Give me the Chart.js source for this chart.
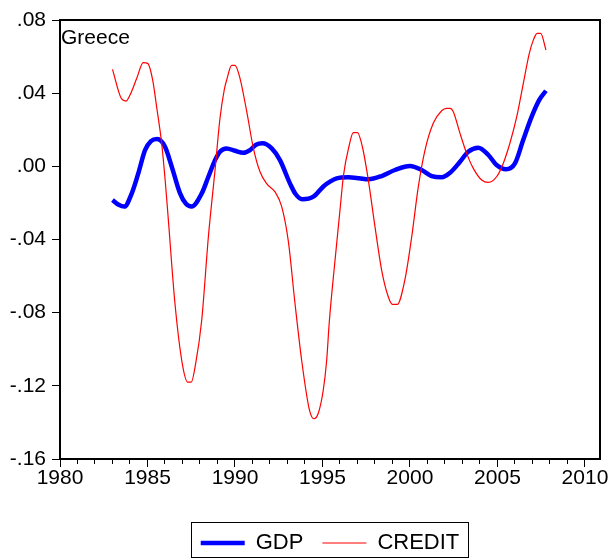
<!DOCTYPE html>
<html>
<head>
<meta charset="utf-8">
<script src="https://cdn.jsdelivr.net/npm/chart.js@4"></script>
<style>
html,body{margin:0;padding:0;background:#fff;}
canvas{display:block;}
</style>
</head>
<body>
<canvas id="c" width="613" height="560" style="width:613px;height:560px"></canvas>
<script>
// ---- data ----
const panelTitle = 'Greece';
const seriesNames = ['GDP', 'CREDIT'];

const gdpYears = [1983.0, 1983.35, 1983.68, 1984.1, 1984.47, 1984.86, 1985.2, 1985.55, 1986.0, 1986.38,
  1986.86, 1987.2, 1987.52, 1988.1, 1988.48, 1988.86, 1989.14, 1989.52, 1990.0, 1990.48,
  1990.86, 1991.2, 1991.57, 1992.1, 1992.57, 1993.14, 1993.45, 1993.85, 1994.48, 1995.05,
  1995.43, 1995.81, 1996.47, 1997.1, 1997.62, 1998.38, 1999.14, 2000.0, 2000.67, 2001.24,
  2001.81, 2002.29, 2002.86, 2003.33, 2003.9, 2004.48, 2004.95, 2005.49, 2006.0, 2006.47,
  2006.95, 2007.39, 2007.77];
const gdpValues = [-0.0184, -0.021, -0.022, -0.0148, -0.004, 0.0089, 0.0138, 0.0149, 0.0107, 0.0,
  -0.0148, -0.0205, -0.022, -0.0148, -0.0057, 0.0034, 0.008, 0.0098, 0.0085, 0.0074,
  0.0089, 0.0118, 0.0126, 0.0098, 0.0034, -0.0093, -0.015, -0.018, -0.0166, -0.011,
  -0.0084, -0.0066, -0.006, -0.0065, -0.0071, -0.0053, -0.002, 0.0002, -0.002, -0.0053,
  -0.006, -0.0035, 0.0025, 0.008, 0.0102, 0.0062, 0.0007, -0.0016, 0.0016, 0.0144,
  0.027, 0.0363, 0.0413];

const creditYears = [1983.0, 1983.5, 1983.77, 1984.0, 1984.38, 1984.76, 1985.01, 1985.3, 1985.52, 1985.81,
  1986.04, 1986.19, 1986.57, 1986.99, 1987.3, 1987.5, 1987.75, 1988.1, 1988.48, 1988.86,
  1989.14, 1989.39, 1989.52, 1989.81, 1990.0, 1990.29, 1990.67, 1991.05, 1991.43, 1991.81, 1992.29,
  1992.67, 1993.05, 1993.43, 1993.81, 1994.25, 1994.51, 1994.76, 1995.05, 1995.24, 1995.39,
  1995.71, 1996.0, 1996.2, 1996.51, 1996.76, 1997.0, 1997.28, 1997.62, 1998.0, 1998.38,
  1998.76, 1999.0, 1999.27, 1999.71, 2000.1, 2000.48, 2000.86, 2001.33, 2001.81, 2002.1,
  2002.3, 2002.47, 2002.86, 2003.24, 2003.62, 2004.1, 2004.48, 2004.95, 2005.33, 2005.71,
  2006.1, 2006.47, 2006.82, 2007.05, 2007.27, 2007.47, 2007.77];
const creditValues = [0.053, 0.0372, 0.0357, 0.039, 0.048, 0.0567, 0.0563, 0.047, 0.0326, 0.0126,
  -0.011, -0.029, -0.075, -0.108, -0.118, -0.118, -0.108, -0.084, -0.0385, -0.002,
  0.026, 0.042, 0.047, 0.0552, 0.0552, 0.048, 0.030, 0.010, -0.003, -0.0095, -0.014,
  -0.022, -0.041, -0.075, -0.106, -0.133, -0.138, -0.135, -0.122, -0.106, -0.085,
  -0.052, -0.024, -0.005, 0.0107, 0.0184, 0.0184, 0.0107, -0.0075, -0.033, -0.0567,
  -0.0713, -0.0755, -0.0755, -0.062, -0.0385, -0.011, 0.0089, 0.0235, 0.0304, 0.0317,
  0.0317, 0.030, 0.018, 0.0071, -0.0011, -0.0075, -0.0088, -0.0057, 0.0016, 0.0126,
  0.027, 0.045, 0.0618, 0.069, 0.0727, 0.0727, 0.0636];

const xMajorTicks = [1980, 1985, 1990, 1995, 2000, 2005, 2010];
const xTickLabels = ['1980', '1985', '1990', '1995', '2000', '2005', '2010'];
const yTicks = [-0.16, -0.12, -0.08, -0.04, 0, 0.04, 0.08];
const yTickLabels = ['-.16', '-.12', '-.08', '-.04', '.00', '.04', '.08'];
const xMin = 1980, xMax = 2010.86, yMin = -0.16, yMax = 0.08;

// ---- chart ----
const FONT = "'Liberation Sans', Arial, sans-serif";
Chart.defaults.font.family = FONT;
Chart.defaults.color = '#000';

const toPoints = (xs, ys) => xs.map((x, i) => ({x: x, y: ys[i]}));

const extras = {
  id: 'panelExtras',
  afterDraw(chart) {
    const {ctx, chartArea} = chart;
    ctx.save();
    ctx.font = '21px ' + FONT;
    ctx.fillStyle = '#000';
    ctx.textBaseline = 'alphabetic';
    ctx.textAlign = 'left';
    ctx.fillText(panelTitle, chartArea.left + 1, chartArea.top + 24);
    const lg = chart.legend;
    if (lg && lg.legendHitBoxes && lg.legendHitBoxes.length) {
      const hb = lg.legendHitBoxes;
      const l = Math.min(...hb.map(h => h.left)) - 10;
      const r = Math.max(...hb.map(h => h.left + h.width)) + 8;
      const t = hb[0].top - 10;
      const b = hb[0].top + 25;
      ctx.strokeStyle = '#000';
      ctx.lineWidth = 1;
      ctx.strokeRect(Math.round(l) + 0.5, Math.round(t) + 0.5, Math.round(r - l), Math.round(b - t));
    }
    ctx.restore();
  }
};

const frameAxis = (pos) => ({
  type: 'linear',
  position: pos,
  min: pos === 'top' ? xMin : yMin,
  max: pos === 'top' ? xMax : yMax,
  display: true,
  ticks: {display: false},
  grid: {display: false, drawTicks: false},
  border: {display: true, color: '#000', width: 2},
  afterFit: (s) => { if (pos === 'top') s.height = 0; else s.width = 0; }
});

new Chart(document.getElementById('c'), {
  type: 'line',
  data: {
    datasets: [
      {
        label: seriesNames[0],
        data: toPoints(gdpYears, gdpValues),
        borderColor: '#0000ff',
        backgroundColor: '#0000ff',
        borderWidth: 4.5,
        pointRadius: 0,
        cubicInterpolationMode: 'monotone',
        fill: false,
        order: 1
      },
      {
        label: seriesNames[1],
        data: toPoints(creditYears, creditValues),
        borderColor: '#ff0000',
        backgroundColor: '#ff0000',
        borderWidth: 1.2,
        pointRadius: 0,
        cubicInterpolationMode: 'monotone',
        fill: false,
        order: 0
      }
    ]
  },
  options: {
    responsive: false,
    devicePixelRatio: 1,
    animation: false,
    events: [],
    layout: {padding: {top: 20, right: 13, bottom: -4, left: 0}},
    scales: {
      xm: {
        type: 'linear', position: 'bottom', weight: 0,
        min: xMin, max: xMax,
        ticks: {display: false, stepSize: 1, includeBounds: false},
        grid: {drawOnChartArea: false, tickLength: 5, tickColor: '#000', tickWidth: 1},
        border: {display: false},
        afterFit: (s) => { s.height = 0; }
      },
      x: {
        type: 'linear', position: 'bottom', weight: 1,
        min: xMin, max: xMax,
        afterBuildTicks: (s) => { s.ticks = xMajorTicks.map(v => ({value: v})); },
        ticks: {
          font: {size: 21}, color: '#000', padding: -1, maxRotation: 0, autoSkip: false,
          callback: (v, i) => xTickLabels[i]
        },
        grid: {drawOnChartArea: false, tickLength: 8, tickColor: '#000', tickWidth: 1},
        border: {display: true, color: '#000', width: 2},
        afterFit: (s) => { s.height = 54; }
      },
      y: {
        type: 'linear', position: 'left',
        min: yMin, max: yMax,
        afterBuildTicks: (s) => { s.ticks = yTicks.map(v => ({value: v})); },
        ticks: {
          font: {size: 21}, color: '#000', padding: 6, autoSkip: false,
          callback: (v, i) => yTickLabels[i]
        },
        grid: {drawOnChartArea: false, tickLength: 8, tickColor: '#000', tickWidth: 1},
        border: {display: true, color: '#000', width: 2},
        afterFit: (s) => { s.width = 60; }
      },
      xTop: frameAxis('top'),
      yRight: frameAxis('right')
    },
    plugins: {
      tooltip: {enabled: false},
      title: {display: false},
      legend: {
        display: true,
        position: 'bottom',
        fullSize: false,
        align: 'center',
        labels: {
          usePointStyle: true,
          pointStyle: 'line',
          pointStyleWidth: 44,
          font: {size: 22},
          color: '#000',
          padding: 19,
          sort: (a, b) => a.datasetIndex - b.datasetIndex
        }
      }
    }
  },
  plugins: [extras]
});
</script>
</body>
</html>
